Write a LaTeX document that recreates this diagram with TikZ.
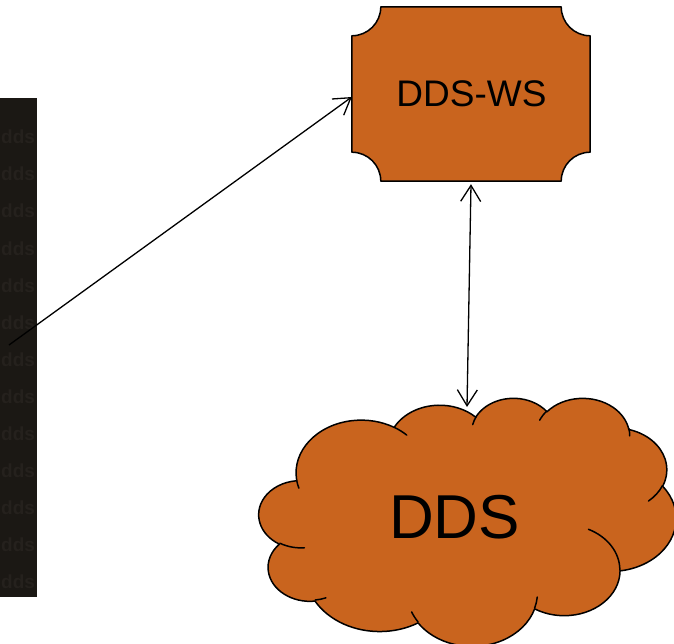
\documentclass[tikz,border=0pt]{standalone}
\usepackage{fontspec}
\setmainfont{Liberation Sans}
\usetikzlibrary{arrows.meta,calc}

\definecolor{rust}{RGB}{201,100,30}
\definecolor{stripbg}{RGB}{27,24,20}
\definecolor{stripink}{RGB}{37,33,29}

\tikzset{
  % elliptical arc given by radii and a start/sweep angle measured from the centre
  ooarc/.style n args={4}{insert path={
    arc[x radius=#1, y radius=#2,
        start angle={atan2(#1*sin(#3),#2*cos(#3))},
        delta angle={mod(atan2(#1*sin(#3+#4),#2*cos(#3+#4))-atan2(#1*sin(#3),#2*cos(#3))+720,360)}]}},
  outline/.style={draw=black, line width=1.5pt, line join=round},
  barb/.tip={Straight Barb[length=16pt,width=20pt]},
  link/.style={draw=black, line width=1.3pt},
  box/.style={minimum width=238pt, minimum height=174pt, inner sep=0pt},
  wstext/.style={anchor=base, inner sep=0pt, font=\fontsize{37}{44}\selectfont},
  ddstext/.style={anchor=base, inner sep=0pt, font=\fontsize{62}{74}\selectfont},
  stripword/.style={anchor=base west, inner sep=0pt, text=stripink,
    font=\bfseries\fontsize{19}{23}\selectfont}
}

\begin{document}
\begin{tikzpicture}[x=1pt, y=-1pt]
\useasboundingbox (0,0) rectangle (674,644);
\clip (0,0) rectangle (674,644);

% dark textured strip on the left
\fill[stripbg] (0,98) rectangle (37,597);
\foreach \yy in {144,181,218,255,292,329,366,403,440,477,514,551,588} {
  \node[stripword] at (1,\yy) {dds};
}

% DDS-WS plaque
\node[box] (ws) at (471,94) {};
\path[outline, fill=rust]
  ([xshift=29pt]ws.north west) -- ([xshift=-29pt]ws.north east)
  arc[start angle=180, end angle=270, radius=29pt]
  -- ([yshift=29pt]ws.south east)
  arc[start angle=90, end angle=180, radius=29pt]
  -- ([xshift=29pt]ws.south west)
  arc[start angle=0, end angle=90, radius=29pt]
  -- ([yshift=-29pt]ws.north west)
  arc[start angle=-90, end angle=0, radius=29pt]
  -- cycle;
\node[wstext] (wslabel) at (471.5,107) {DDS-WS};

% DDS cloud
\begin{scope}[shift={(259pt,-397.5pt)}, x=0.96528pt, y=-0.57407pt]
  \path[outline, fill=rust] (39.00,143.70)
    [ooarc={67.53}{91.90}{-190.48748}{123.78053}]
    [ooarc={53.33}{72.67}{-144.10238}{89.94523}]
    [ooarc={43.65}{59.45}{-145.80792}{99.72302}]
    [ooarc={48.57}{65.95}{-130.98607}{117.24173}]
    [ooarc={53.33}{72.73}{-78.70888}{109.02692}]
    [ooarc={67.75}{92.20}{-46.26725}{130.26900}]
    [ooarc={57.85}{78.67}{0.62502}{114.03333}]
    [ooarc={67.52}{92.15}{22.45160}{115.17255}]
    [ooarc={77.20}{105.43}{66.24263}{75.71102}]
    [ooarc={43.60}{59.18}{-274.94208}{146.73557}]
    [ooarc={43.45}{59.45}{-246.82850}{152.51885}]
    -- cycle;
  \path[outline, line cap=round]
    (46.93,261.77) [ooarc={43.45}{59.45}{86.74200}{26.42950}]
    (69.28,348.99) [ooarc={43.60}{59.18}{73.61047}{11.44747}]
    (164.78,390.90) [ooarc={67.52}{92.15}{137.62415}{14.08110}]
    (288.27,347.51) [ooarc={67.52}{92.15}{6.45327}{15.99835}]
    (341.29,229.54) [ooarc={57.85}{78.67}{-70.29235}{70.91737}]
    (417.98,153.54) [ooarc={53.33}{72.73}{30.31803}{27.75150}]
    (383.24,54.26) [ooarc={48.57}{65.95}{-13.74433}{14.85890}]
    (290.78,39.52) [ooarc={48.57}{65.95}{-149.18145}{18.19537}]
    (221.41,47.20) [ooarc={43.65}{59.45}{-163.49427}{17.68635}]
    (140.00,51.92) [ooarc={67.53}{91.90}{-66.70695}{12.31935}]
    (41.27,157.89) [ooarc={67.53}{91.90}{157.65435}{11.85817}];
\end{scope}
\node[ddstext] (dds) at (454.5,538) {DDS};

% connectors
\coordinate (src) at (9,345);
\coordinate (ddstop) at (467,407);
\draw[link, -{barb}] (src) -- ([yshift=-3pt]ws.west);
\draw[link, {barb}-{barb}] ([yshift=-3pt]ws.south) -- (ddstop);
\end{tikzpicture}
\end{document}
